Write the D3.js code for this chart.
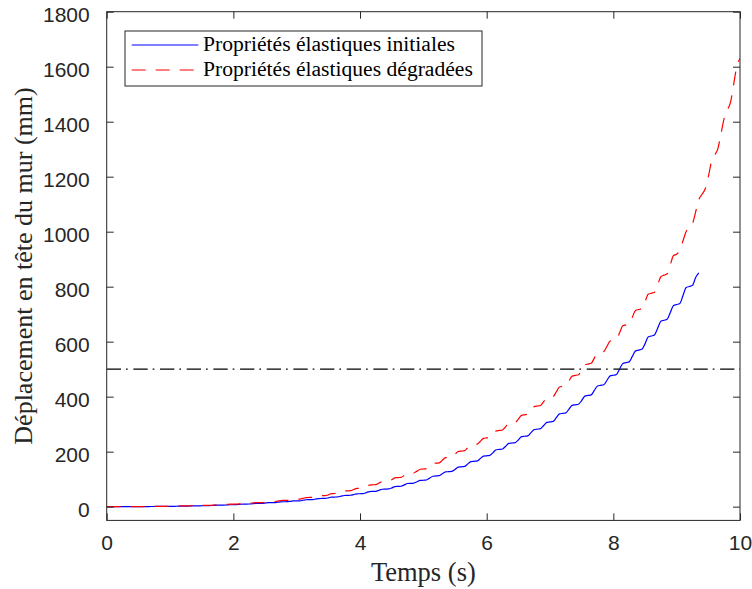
<!DOCTYPE html>
<html><head><meta charset="utf-8">
<script src="https://cdn.jsdelivr.net/npm/d3@7"></script>
<style>html,body{margin:0;padding:0;background:#fff;}svg{display:block;}</style>
</head><body><svg id="c" width="752" height="589"></svg>
<script>
// ---- data ----
const dt = 0.05; // sampling step (s)
const seriesNames = ["Propriétés élastiques initiales", "Propriétés élastiques dégradées"];
const blueValues = [
0,0,0,0.1,0.1,0.1,0.1,0.1,0.2,0.2,0.2,
0.3,0.4,0.4,0.5,0.6,0.7,0.8,0.8,0.9,1.0,
1.1,1.4,1.8,1.9,1.9,2.3,2.7,2.8,2.8,3.2,
3.9,4.0,4.1,4.7,5.4,5.5,5.6,6.2,6.9,7.0,
7.2,8.2,9.3,9.4,9.6,10.6,11.7,11.8,12.0,13.0,
14.4,14.6,14.8,16.2,17.6,17.8,18.0,19.4,20.8,21,
21.3,23.2,25.1,25.4,25.7,27.6,29.5,29.8,30.1,32,
34.6,35,35.4,38,40.6,41,41.4,44,46.6,47,
47.5,51.2,54.9,55.4,55.9,59.6,63.3,63.8,64.3,68,
72.9,73.6,74.3,79.2,84.1,84.8,85.5,90.4,95.3,96,
97,103.8,110.6,111.6,112.6,119.4,126.2,127.2,128.2,135,
143.8,145,146.2,155,163.8,165,166.2,175,183.8,185,
186.5,196.6,206.8,208.2,209.7,219.8,230,231.4,232.9,243,
254.4,256,257.6,269,280.4,282,283.6,295,306.4,308,
310,323.6,337.3,339.2,341.2,354.8,368.5,370.4,372.4,386,
402.1,404.4,406.7,422.8,438.9,441.2,443.5,459.6,475.7,478,
480.9,500.8,520.8,523.6,526.5,546.4,566.4,569.2,572.1,592,
617,620.6,624.2,649.2,674.2,677.8,681.4,706.4,731.4,735,
739.1,767.9,796.6,800.7,804.8,833.6,850
];
const redValues = [
0,0,0.1,0.1,0.1,0.2,0.2,0.2,0.2,0.3,0.3,
0.3,0.5,0.8,0.8,0.8,1.0,1.2,1.3,1.3,1.5,
1.6,2.0,2.4,2.5,2.6,3.0,3.4,3.5,3.6,4.0,
4.9,5.0,5.1,6.0,6.9,7.0,7.1,8.0,8.9,9.0,
9.2,10.4,11.6,11.8,12.0,13.2,14.4,14.6,14.8,16,
17.9,18.2,18.5,20.4,22.3,22.6,22.9,24.8,26.7,27,
27.4,30.2,33.0,33.4,33.8,36.6,39.4,39.8,40.2,43,
47.2,47.8,48.4,52.6,56.8,57.4,58.0,62.2,66.4,67,
67.8,73.2,78.6,79.4,80.2,85.6,91.0,91.8,92.6,98,
104.8,105.8,106.8,113.6,120.4,121.4,122.4,129.2,136,137,
138.3,147.6,156.9,158.2,159.5,168.8,178.1,179.4,180.7,190,
200.5,202,203.5,214,224.5,226,227.5,238,248.5,250,
251.7,263.6,275.5,277.2,278.9,290.8,302.7,304.4,306.1,318,
332,334,336,350,364,366,368,382,396,398,
400.5,417.8,435.1,437.6,440.1,457.4,474.7,477.2,479.7,497,
515.9,518.6,521.3,540.2,559.1,561.8,564.5,583.4,602.3,605,
608.5,633,657.5,661,664.5,689,713.5,717,720.5,745,
772.3,776.2,780.1,807.4,836,842,846.8,880,913.3,918,
932.7,966.8,1000.9,1015.6,1029,1072,1116.8,1136,1155.2,1200,
1254.6,1278,1301.4,1356,1412,1442,1470.2,1536,1601.8,1630
];
const thresholdValue = 500;
const xTicks = [0, 2, 4, 6, 8, 10];
const yTicks = [0, 200, 400, 600, 800, 1000, 1200, 1400, 1600, 1800];
const xDomain = [0, 10];
const yDomain = [-50, 1800];
const xTitle = "Temps (s)";
const yTitle = "Déplacement en tête du mur (mm)";

// ---- layout ----
const L = 106.7, R = 740, T = 11.7, B = 520.4;
const axisColor = "#262626";
const svg = d3.select("#c");
const x = d3.scaleLinear().domain(xDomain).range([L, R]);
const y = d3.scaleLinear().domain(yDomain).range([B, T]);

const toPts = vals => vals.map((v, i) => [i * dt, v]);
const line = d3.line().x(d => x(d[0])).y(d => y(d[1])).curve(d3.curveMonotoneX);

const plot = svg.append("g");
plot.append("clipPath").attr("id", "clip").append("rect")
  .attr("x", L).attr("y", T).attr("width", R - L).attr("height", B - T);
const g = plot.append("g").attr("clip-path", "url(#clip)");

// threshold
g.append("line").attr("x1", x(xDomain[0])).attr("x2", x(xDomain[1]))
  .attr("y1", y(thresholdValue)).attr("y2", y(thresholdValue))
  .attr("stroke", "#000").attr("stroke-width", 1.2)
  .attr("stroke-dasharray", "14.3,5,1.7,5.67");

g.append("path").attr("d", line(toPts(blueValues)))
  .attr("fill", "none").attr("stroke", "#0000ff").attr("stroke-width", 1.2);
g.append("path").attr("d", line(toPts(redValues)))
  .attr("fill", "none").attr("stroke", "#ff0000").attr("stroke-width", 1.2)
  .attr("stroke-dasharray", "14,10");

// axes
const tickLen = 7;
const xb = d3.axisBottom(x).tickValues(xTicks).tickSizeInner(-tickLen).tickSizeOuter(0).tickPadding(15).tickFormat(d3.format("d"));
const xt = d3.axisTop(x).tickValues(xTicks).tickSizeInner(-tickLen).tickSizeOuter(0).tickFormat("");
const yl = d3.axisLeft(y).tickValues(yTicks).tickSizeInner(-tickLen).tickSizeOuter(0).tickPadding(17).tickFormat(d3.format("d"));
const yr = d3.axisRight(y).tickValues(yTicks).tickSizeInner(-tickLen).tickSizeOuter(0).tickFormat("");
function style(sel){
  sel.attr("font-family", "'Liberation Sans', Arial, sans-serif").attr("font-size", 21);
  sel.select(".domain").remove();
  sel.selectAll(".tick line").attr("stroke", axisColor).attr("stroke-width", 1);
  sel.selectAll(".tick text").attr("fill", axisColor);
}
svg.append("g").attr("transform", `translate(0,${B})`).call(xb).call(style);
svg.append("g").attr("transform", `translate(0,${T})`).call(xt).call(style);
svg.append("g").attr("transform", `translate(${L},0)`).call(yl).call(style)
  .selectAll(".tick text").attr("dy", "0.45em");
svg.append("g").attr("transform", `translate(${R},0)`).call(yr).call(style);
svg.append("rect").attr("x", L).attr("y", T).attr("width", R - L).attr("height", B - T)
  .attr("fill", "none").attr("stroke", axisColor).attr("stroke-width", 1);

// titles
svg.append("text").attr("x", (L + R) / 2).attr("y", 581).attr("text-anchor", "middle")
  .attr("font-family", "'Liberation Serif', 'Times New Roman', serif").attr("font-size", 26.5)
  .attr("fill", axisColor).text(xTitle);
svg.append("text").attr("transform", `translate(32,${266}) rotate(-90)`).attr("text-anchor", "middle")
  .attr("font-family", "'Liberation Serif', 'Times New Roman', serif").attr("font-size", 26)
  .attr("fill", axisColor).text(yTitle);

// legend
const lg = svg.append("g");
lg.append("rect").attr("x", 125).attr("y", 31).attr("width", 357).attr("height", 55)
  .attr("fill", "#fff").attr("stroke", axisColor).attr("stroke-width", 1);
const legendItems = [
  {name: seriesNames[0], color: "#0000ff", dash: null},
  {name: seriesNames[1], color: "#ff0000", dash: "14,10"}
];
legendItems.forEach((d, i) => {
  const yy = 45 + i * 25;
  lg.append("line").attr("x1", 131.7).attr("x2", 198.3).attr("y1", yy).attr("y2", yy)
    .attr("stroke", d.color).attr("stroke-width", 1.2).attr("stroke-dasharray", d.dash);
  lg.append("text").attr("x", 203).attr("y", yy + 6)
    .attr("font-family", "'Liberation Serif', 'Times New Roman', serif").attr("font-size", 21.6)
    .attr("fill", "#000").text(d.name);
});
</script></body></html>
